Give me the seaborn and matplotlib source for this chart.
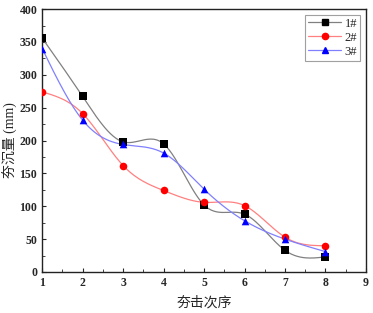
import numpy as np
import pandas as pd
import matplotlib
matplotlib.use("Agg")
import matplotlib.pyplot as plt
import seaborn as sns
from matplotlib.lines import Line2D

# tamping sequence and settlement (mm) for the three test points
order = [1, 2, 3, 4, 5, 6, 7, 8]
s1 = [356, 267, 198, 195, 102, 88, 33, 23]
s2 = [274, 241, 162, 124, 106, 101, 53, 40]
s3 = [340, 231, 194, 181, 126, 78, 50, 31]
names = ["1#", "2#", "3#"]


def spline(x, y, n=200):
    # natural cubic spline through the measured points (drawing only)
    x = np.asarray(x, float)
    y = np.asarray(y, float)
    k = len(x)
    h = np.diff(x)
    A = np.zeros((k, k))
    b = np.zeros(k)
    A[0, 0] = A[-1, -1] = 1
    for i in range(1, k - 1):
        A[i, i - 1] = h[i - 1]
        A[i, i] = 2 * (h[i - 1] + h[i])
        A[i, i + 1] = h[i]
        b[i] = 3 * ((y[i + 1] - y[i]) / h[i] - (y[i] - y[i - 1]) / h[i - 1])
    c = np.linalg.solve(A, b)
    xs = np.linspace(x[0], x[-1], n)
    idx = np.clip(np.searchsorted(x, xs) - 1, 0, k - 2)
    t = xs - x[idx]
    bb = (y[idx + 1] - y[idx]) / h[idx] - h[idx] * (2 * c[idx] + c[idx + 1]) / 3
    d = (c[idx + 1] - c[idx]) / (3 * h[idx])
    ys = y[idx] + bb * t + c[idx] * t ** 2 + d * t ** 3
    return xs, ys


sns.set_style("ticks")
plt.rcParams["font.family"] = ["Liberation Serif", "Noto Sans CJK SC"]
plt.rcParams["xtick.direction"] = "in"
plt.rcParams["ytick.direction"] = "in"

fig = plt.figure(figsize=(3.73, 3.13), dpi=100)
ax = fig.add_axes([0.113, 0.131, 0.868, 0.84])

line_cols = ["#808080", "#ff8080", "#8080ff"]
mark_cols = ["black", "red", "blue"]
markers = ["s", "o", "^"]

handles = []
for s, name, lc, mc, m in zip([s1, s2, s3], names, line_cols, mark_cols, markers):
    xs, ys = spline(order, s)
    sns.lineplot(x=xs, y=ys, ax=ax, color=lc, linewidth=0.9, sort=False)
    sns.scatterplot(x=order, y=s, ax=ax, color=mc, marker=m, s=30,
                    edgecolor=mc, linewidth=0, zorder=3)
    handles.append(Line2D([], [], color=lc, linewidth=0.9, marker=m,
                          markerfacecolor=mc, markeredgecolor=mc, markersize=4.5))

ax.set_xlim(1, 9)
ax.set_ylim(0, 400)
ax.set_xticks(range(1, 10))
ax.set_xticks(np.arange(1.5, 9, 1), minor=True)
ax.set_yticks(range(0, 401, 50))
ax.set_yticks(range(25, 400, 50), minor=True)
ax.tick_params(labelsize=8.5, length=3, width=0.8)
ax.tick_params(which="minor", length=2, width=0.6)
for lab in ax.get_xticklabels() + ax.get_yticklabels():
    lab.set_fontweight("bold")
for sp in ax.spines.values():
    sp.set_linewidth(1.0)
    sp.set_color("#222222")

ax.set_xlabel("夯击次序", fontsize=10, labelpad=5)
ax.set_ylabel("夯沉量 (mm)", fontsize=10, labelpad=1)

leg = ax.legend(handles, names, loc="upper right", fontsize=9, frameon=True,
                fancybox=False, edgecolor="#888888", handlelength=2.6,
                borderpad=0.25, labelspacing=0.15, handletextpad=0.3,
                borderaxespad=0.45)
leg.get_frame().set_linewidth(0.8)

fig.savefig("out.png", dpi=100)
